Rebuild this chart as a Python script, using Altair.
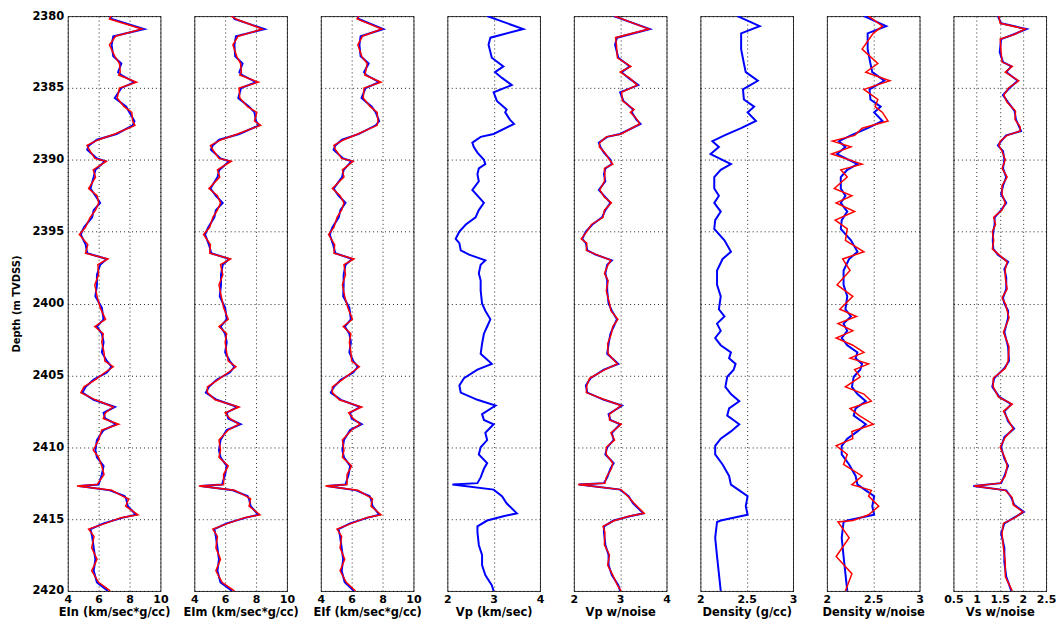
import altair as alt
import pandas as pd

FONT = "DejaVu Sans"

# ---------------- data ----------------
D_EI = [2380.0, 2380.2, 2380.9, 2381.4, 2382.0, 2382.8, 2383.3, 2383.9, 2384.1, 2384.6,
        2385.0, 2385.7, 2386.3, 2386.7, 2387.3, 2387.6, 2388.2, 2388.6, 2389.0, 2389.3,
        2389.9, 2390.1, 2390.7, 2391.2, 2392.0, 2392.5, 2393.0, 2393.5, 2394.0, 2394.7,
        2395.2, 2395.9, 2396.5, 2396.9, 2397.3, 2398.0, 2398.7, 2399.5, 2400.3, 2401.1,
        2401.6, 2402.1, 2402.7, 2403.4, 2404.0, 2404.4, 2404.8, 2405.3, 2405.8, 2406.2,
        2406.7, 2407.2, 2407.6, 2408.0, 2408.4, 2408.8, 2409.5, 2410.2, 2410.7, 2411.3,
        2411.9, 2412.6, 2412.7, 2413.0, 2413.4, 2413.6, 2414.1, 2414.7, 2414.9, 2415.3,
        2415.7, 2416.2, 2417.0, 2417.8, 2418.6, 2419.4, 2420.0]

EIN = [6.74, 6.84, 8.95, 6.95, 6.84, 6.95, 7.47, 7.26, 7.47, 8.32,
       7.47, 7.05, 7.79, 8.00, 8.32, 8.21, 7.16, 5.89, 5.37, 5.26,
       5.89, 6.42, 5.79, 5.68, 5.47, 5.79, 6.10, 5.68, 5.58, 5.05,
       4.84, 5.16, 5.26, 6.53, 6.10, 5.89, 5.89, 5.79, 6.21, 6.32,
       5.89, 6.21, 6.32, 6.21, 6.53, 6.84, 6.53, 5.68, 5.16, 4.95,
       5.68, 7.05, 6.32, 6.42, 7.16, 6.32, 5.89, 5.79, 5.89, 6.32,
       6.21, 6.00, 4.74, 6.74, 7.68, 7.79, 7.89, 8.42, 7.58, 6.32,
       5.47, 5.58, 5.68, 5.79, 5.68, 5.89, 6.60]
EIN_NOISE = [6.80, 6.70, 8.80, 7.10, 6.70, 7.05, 7.35, 7.40, 7.30, 8.45,
             7.35, 7.20, 7.65, 8.15, 8.20, 8.35, 7.05, 6.00, 5.25, 5.40,
             5.75, 6.50, 5.65, 5.80, 5.35, 5.90, 6.00, 5.80, 5.45, 5.15,
             4.75, 5.30, 5.15, 6.60, 5.95, 6.00, 5.75, 5.90, 6.10, 6.45,
             5.75, 6.30, 6.20, 6.35, 6.40, 6.95, 6.40, 5.80, 5.05, 4.85,
             5.80, 6.95, 6.45, 6.30, 7.30, 6.20, 6.00, 5.65, 6.00, 6.20,
             6.35, 5.90, 4.60, 6.85, 7.55, 7.95, 7.75, 8.55, 7.45, 6.45,
             5.35, 5.70, 5.55, 5.90, 5.55, 6.00, 6.75]

EIM = [6.50, 6.60, 8.55, 6.70, 6.60, 6.65, 7.13, 6.92, 7.10, 8.00,
       7.03, 6.85, 7.55, 7.90, 8.00, 8.20, 6.92, 5.62, 5.19, 5.08,
       5.70, 6.27, 5.62, 5.51, 5.05, 5.40, 5.84, 5.40, 5.30, 4.90,
       4.70, 4.95, 5.10, 6.27, 5.84, 5.73, 5.73, 5.65, 6.00, 6.10,
       5.70, 6.00, 6.10, 6.00, 6.30, 6.60, 6.30, 5.45, 4.95, 4.75,
       5.45, 6.80, 6.10, 6.20, 7.00, 6.10, 5.70, 5.60, 5.70, 6.10,
       6.00, 5.80, 4.40, 6.50, 7.45, 7.55, 7.65, 8.15, 7.35, 6.10,
       5.30, 5.40, 5.50, 5.60, 5.50, 5.70, 6.45]
EIM_NOISE = [6.40, 6.70, 8.40, 6.85, 6.50, 6.75, 7.00, 7.05, 6.95, 8.15,
             6.90, 6.95, 7.45, 8.05, 7.90, 8.30, 6.80, 5.75, 5.05, 5.20,
             5.60, 6.40, 5.50, 5.65, 4.95, 5.50, 5.70, 5.50, 5.20, 5.00,
             4.60, 5.05, 5.00, 6.35, 5.70, 5.85, 5.60, 5.75, 5.90, 6.20,
             5.60, 6.10, 6.00, 6.10, 6.20, 6.70, 6.20, 5.55, 4.85, 4.85,
             5.35, 6.90, 6.00, 6.30, 6.90, 6.20, 5.60, 5.70, 5.60, 6.20,
             5.90, 5.90, 4.30, 6.60, 7.35, 7.65, 7.55, 8.25, 7.25, 6.20,
             5.20, 5.50, 5.40, 5.70, 5.40, 5.80, 6.60]

EIF = [6.37, 6.45, 8.05, 6.58, 6.50, 6.58, 7.10, 6.80, 6.95, 7.78,
       6.90, 6.64, 7.30, 7.56, 7.78, 7.56, 6.47, 5.38, 4.94, 4.83,
       5.45, 6.00, 5.48, 5.38, 4.83, 5.16, 5.60, 5.27, 5.16, 4.75,
       4.58, 4.80, 4.94, 6.04, 5.60, 5.48, 5.48, 5.45, 5.85, 5.95,
       5.55, 5.85, 5.95, 5.85, 6.10, 6.40, 6.10, 5.30, 4.85, 4.65,
       5.30, 6.55, 5.90, 6.00, 6.65, 5.90, 5.50, 5.40, 5.50, 5.90,
       5.80, 5.60, 4.40, 6.30, 7.15, 7.25, 7.35, 7.80, 7.05, 5.90,
       5.15, 5.25, 5.35, 5.45, 5.35, 5.55, 6.15]
EIF_NOISE = [6.45, 6.35, 7.95, 6.70, 6.40, 6.65, 7.00, 6.90, 6.85, 7.90,
             6.80, 6.75, 7.20, 7.65, 7.70, 7.65, 6.40, 5.50, 4.85, 4.95,
             5.35, 6.10, 5.40, 5.50, 4.75, 5.25, 5.50, 5.35, 5.05, 4.85,
             4.50, 4.90, 4.85, 6.15, 5.50, 5.60, 5.40, 5.55, 5.75, 6.05,
             5.45, 5.95, 5.85, 5.95, 6.00, 6.50, 6.00, 5.40, 4.75, 4.75,
             5.20, 6.65, 5.80, 6.10, 6.55, 6.00, 5.40, 5.50, 5.40, 6.00,
             5.70, 5.70, 4.30, 6.40, 7.05, 7.35, 7.25, 7.90, 6.95, 6.00,
             5.05, 5.35, 5.25, 5.55, 5.25, 5.65, 6.25]

D_VP = [2380.0, 2380.9, 2381.5, 2382.0, 2382.9, 2383.5, 2383.9, 2384.3, 2384.8, 2385.3,
        2385.9, 2386.5, 2386.7, 2387.2, 2387.5, 2388.2, 2388.4, 2388.8, 2389.1, 2389.5,
        2390.0, 2390.3, 2390.6, 2391.0, 2391.5, 2392.1, 2392.6, 2393.0, 2393.5, 2394.0,
        2394.5, 2395.0, 2395.5, 2395.8, 2396.3, 2396.6, 2397.0, 2397.3, 2397.9, 2398.4,
        2399.1, 2400.0, 2400.5, 2401.1, 2401.6, 2402.1, 2402.8, 2403.5, 2404.2, 2404.6,
        2405.2, 2405.7, 2406.2, 2406.7, 2407.1, 2407.7, 2408.1, 2408.4, 2409.0, 2409.5,
        2410.0, 2410.5, 2411.1, 2411.5, 2412.1, 2412.5, 2412.6, 2412.95, 2413.4, 2413.9,
        2414.6, 2414.8, 2415.1, 2415.5, 2415.9, 2416.8, 2417.5, 2418.2, 2418.9, 2419.6,
        2420.0]
VP = [2.86, 3.64, 2.93, 2.89, 2.96, 3.21, 3.03, 3.18, 3.39, 3.00,
      3.07, 3.28, 3.25, 3.35, 3.44, 3.00, 2.72, 2.54, 2.57, 2.65,
      2.79, 2.82, 2.68, 2.65, 2.68, 2.54, 2.68, 2.79, 2.68, 2.61,
      2.40, 2.26, 2.18, 2.26, 2.29, 2.47, 2.82, 2.72, 2.68, 2.72,
      2.72, 2.75, 2.82, 2.93, 2.86, 2.79, 2.75, 2.72, 2.96, 2.65,
      2.36, 2.26, 2.29, 2.65, 3.04, 2.75, 2.79, 3.00, 2.82, 2.86,
      2.72, 2.68, 2.86, 2.79, 2.72, 2.65, 2.11, 3.00, 3.18, 3.28,
      3.50, 3.21, 2.86, 2.65, 2.65, 2.68, 2.75, 2.75, 2.82, 2.96,
      3.00]
VP_NOISE = [2.88, 3.62, 2.90, 2.92, 2.94, 3.23, 3.00, 3.20, 3.37, 3.03,
            3.05, 3.30, 3.22, 3.37, 3.42, 3.02, 2.70, 2.56, 2.55, 2.67,
            2.77, 2.84, 2.66, 2.67, 2.66, 2.56, 2.66, 2.81, 2.66, 2.63,
            2.38, 2.28, 2.16, 2.28, 2.27, 2.49, 2.80, 2.74, 2.66, 2.74,
            2.70, 2.77, 2.80, 2.95, 2.84, 2.81, 2.73, 2.74, 2.94, 2.67,
            2.34, 2.28, 2.27, 2.67, 3.02, 2.77, 2.77, 3.02, 2.80, 2.88,
            2.70, 2.70, 2.84, 2.81, 2.70, 2.67, 2.09, 3.02, 3.16, 3.30,
            3.52, 3.19, 2.88, 2.63, 2.67, 2.66, 2.77, 2.73, 2.84, 2.94,
            3.02]

D_RHO = [2380.0, 2380.7, 2381.2, 2382.3, 2383.3, 2383.9, 2384.5, 2385.1, 2385.8, 2386.3,
         2386.7, 2387.3, 2387.8, 2388.3, 2388.7, 2389.1, 2389.6, 2390.3, 2390.7, 2391.2,
         2392.0, 2392.5, 2393.0, 2393.6, 2394.2, 2394.8, 2395.6, 2396.4, 2396.9, 2397.7,
         2398.7, 2399.5, 2400.4, 2400.9, 2401.4, 2401.9, 2402.4, 2402.9, 2403.4, 2403.8,
         2404.2, 2404.6, 2405.1, 2405.8, 2406.3, 2406.8, 2407.3, 2407.8, 2408.4, 2408.9,
         2409.4, 2409.9, 2410.5, 2411.2, 2412.0, 2412.6, 2413.0, 2413.4, 2414.1, 2414.7,
         2415.1, 2415.2, 2416.3, 2417.6, 2418.8, 2420.0]
RHO = [2.40, 2.64, 2.44, 2.44, 2.47, 2.49, 2.62, 2.46, 2.47, 2.58,
       2.51, 2.60, 2.44, 2.26, 2.13, 2.20, 2.11, 2.33, 2.22, 2.15,
       2.15, 2.20, 2.15, 2.22, 2.16, 2.15, 2.26, 2.33, 2.24, 2.18,
       2.18, 2.22, 2.20, 2.26, 2.18, 2.22, 2.16, 2.22, 2.33, 2.31,
       2.38, 2.36, 2.29, 2.27, 2.33, 2.42, 2.31, 2.29, 2.42, 2.33,
       2.22, 2.16, 2.16, 2.24, 2.31, 2.33, 2.42, 2.51, 2.49, 2.51,
       2.22, 2.18, 2.16, 2.18, 2.20, 2.22]
RHO_NOISE = [2.45, 2.60, 2.50, 2.38, 2.55, 2.42, 2.68, 2.40, 2.55, 2.52,
             2.60, 2.66, 2.38, 2.30, 2.06, 2.26, 2.05, 2.38, 2.15, 2.22,
             2.08, 2.27, 2.10, 2.30, 2.09, 2.22, 2.20, 2.40, 2.17, 2.25,
             2.11, 2.28, 2.14, 2.32, 2.12, 2.28, 2.10, 2.28, 2.40, 2.25,
             2.45, 2.30, 2.36, 2.20, 2.40, 2.48, 2.25, 2.35, 2.50, 2.27,
             2.28, 2.10, 2.22, 2.18, 2.38, 2.27, 2.48, 2.45, 2.56, 2.45,
             2.28, 2.12, 2.24, 2.10, 2.27, 2.20]

D_VS = [2380.0, 2380.5, 2380.9, 2381.3, 2381.6, 2382.5, 2383.2, 2383.5, 2383.9, 2384.5,
        2385.0, 2385.5, 2386.0, 2386.6, 2387.2, 2387.7, 2388.0, 2388.3, 2388.7, 2389.0,
        2389.4, 2390.0, 2390.6, 2391.2, 2391.8, 2392.4, 2393.0, 2393.5, 2394.0, 2394.5,
        2395.0, 2395.6, 2396.2, 2396.6, 2397.1, 2397.6, 2398.2, 2399.0, 2399.6, 2400.0,
        2400.5, 2401.0, 2402.0, 2403.0, 2404.0, 2404.5, 2405.2, 2405.8, 2406.5, 2407.0,
        2407.5, 2408.2, 2408.7, 2409.3, 2410.0, 2410.8, 2411.3, 2412.0, 2412.5, 2412.7,
        2413.0, 2413.5, 2414.0, 2414.5, 2414.9, 2415.3, 2416.0, 2417.0, 2418.0, 2419.0,
        2420.0]
VS = [1.46, 1.53, 2.08, 1.78, 1.53, 1.50, 1.57, 1.75, 1.64, 1.89,
      1.71, 1.57, 1.68, 1.82, 1.85, 1.92, 1.96, 1.64, 1.53, 1.46,
      1.57, 1.60, 1.57, 1.64, 1.57, 1.53, 1.64, 1.53, 1.39, 1.39,
      1.36, 1.35, 1.36, 1.46, 1.68, 1.60, 1.64, 1.64, 1.57, 1.60,
      1.68, 1.68, 1.60, 1.68, 1.70, 1.60, 1.38, 1.34, 1.49, 1.75,
      1.60, 1.68, 1.81, 1.60, 1.53, 1.60, 1.68, 1.60, 1.53, 0.93,
      1.64, 1.75, 1.81, 2.02, 1.81, 1.60, 1.53, 1.60, 1.60, 1.64,
      1.75]
VS_NOISE = [1.48, 1.51, 2.05, 1.80, 1.51, 1.53, 1.55, 1.77, 1.62, 1.91,
            1.69, 1.59, 1.66, 1.84, 1.83, 1.94, 1.94, 1.66, 1.51, 1.48,
            1.55, 1.62, 1.55, 1.66, 1.55, 1.55, 1.62, 1.55, 1.37, 1.41,
            1.34, 1.37, 1.34, 1.48, 1.66, 1.62, 1.62, 1.66, 1.55, 1.62,
            1.66, 1.70, 1.58, 1.70, 1.68, 1.62, 1.36, 1.36, 1.47, 1.77,
            1.58, 1.70, 1.79, 1.62, 1.51, 1.62, 1.66, 1.62, 1.51, 0.95,
            1.62, 1.77, 1.79, 2.00, 1.83, 1.58, 1.55, 1.58, 1.62, 1.62,
            1.77]

TITLES = ["EIn (km/sec*g/cc)", "EIm (km/sec*g/cc)", "EIf (km/sec*g/cc)", "Vp (km/sec)",
          "Vp w/noise", "Density (g/cc)", "Density w/noise", "Vs w/noise"]
EI_TICKS = [4, 6, 8, 10]
VP_TICKS = [2, 3, 4]
RHO_TICKS = [2, 2.5, 3]
VS_TICKS = [0.5, 1, 1.5, 2, 2.5]
DEPTH_TICKS = [2380, 2385, 2390, 2395, 2400, 2405, 2410, 2415, 2420]

# ---------------- chart ----------------
PANEL_W = 93
PANEL_H = 577


def series_df(depths, values):
    return pd.DataFrame({"depth": depths, "value": values})


def panel(title, ticks, curves, first=False):
    xscale = alt.Scale(domain=[ticks[0], ticks[-1]], nice=False, zero=False)
    yscale = alt.Scale(domain=[2380, 2420], reverse=True, nice=False, zero=False)
    xaxis = alt.Axis(values=ticks, title=title, format="~r", labelFlush=False,
                     labelOverlap=False, labelPadding=3, titlePadding=2,
                     labelFontSize=11, titleFontSize=11.5)
    if first:
        yaxis = alt.Axis(values=DEPTH_TICKS, format="d", title="Depth (m TVDSS)",
                         labelPadding=4, titlePadding=10, titleFontSize=10,
                         labelFontSize=11.5)
    else:
        yaxis = alt.Axis(values=DEPTH_TICKS, title=None, labels=False)
    layers = []
    for depths, values, color, width in curves:
        layers.append(
            alt.Chart(series_df(depths, values))
            .mark_line(color=color, strokeWidth=width, clip=True)
            .encode(
                x=alt.X("value:Q", scale=xscale, axis=xaxis),
                y=alt.Y("depth:Q", scale=yscale, axis=yaxis),
                order=alt.Order("depth:Q"),
            )
        )
    return alt.layer(*layers).properties(width=PANEL_W, height=PANEL_H)


BLUE = "#0000ff"
RED = "#ff0000"

panels = [
    panel(TITLES[0], EI_TICKS, [(D_EI, EIN, BLUE, 2), (D_EI, EIN_NOISE, RED, 1.5)], first=True),
    panel(TITLES[1], EI_TICKS, [(D_EI, EIM, BLUE, 2), (D_EI, EIM_NOISE, RED, 1.5)]),
    panel(TITLES[2], EI_TICKS, [(D_EI, EIF, BLUE, 2), (D_EI, EIF_NOISE, RED, 1.5)]),
    panel(TITLES[3], VP_TICKS, [(D_VP, VP, BLUE, 2)]),
    panel(TITLES[4], VP_TICKS, [(D_VP, VP, BLUE, 2), (D_VP, VP_NOISE, RED, 1.5)]),
    panel(TITLES[5], RHO_TICKS, [(D_RHO, RHO, BLUE, 2)]),
    panel(TITLES[6], RHO_TICKS, [(D_RHO, RHO, BLUE, 2), (D_RHO, RHO_NOISE, RED, 1.5)]),
    panel(TITLES[7], VS_TICKS, [(D_VS, VS, BLUE, 2), (D_VS, VS_NOISE, RED, 1.5)]),
]

chart = (
    alt.hconcat(*panels, spacing=34, bounds="flush")
    .properties(padding={"left": 11, "top": 8, "right": 5, "bottom": 0}, background="white")
    .configure_view(stroke="#333333", strokeWidth=1)
    .configure_axis(
        labelFont=FONT, titleFont=FONT, labelFontWeight="bold", titleFontWeight="bold",
        labelColor="black", titleColor="black",
        domain=False, ticks=False, grid=True, gridColor="black", gridDash=[1, 3],
        gridOpacity=0.85, gridWidth=1,
    )
)

chart.save("out.html", embed_options={"renderer": "svg", "actions": False})
